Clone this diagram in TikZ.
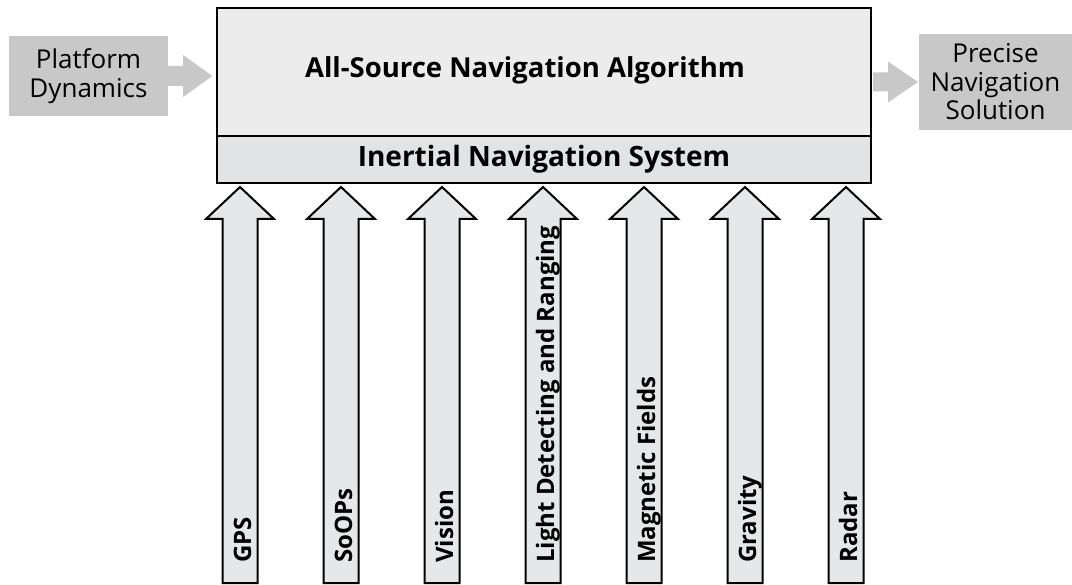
\documentclass[tikz,border=0pt]{standalone}
\usepackage{fontspec}
\setmainfont{Open Sans}
\definecolor{algfill}{HTML}{EBECEB}
\definecolor{insfill}{HTML}{E2E3E4}
\definecolor{arrfill}{HTML}{E6E7E8}
\definecolor{sidegray}{HTML}{C8C8C8}
\begin{document}
\begin{tikzpicture}[x=1pt,y=-1pt,
  mainbox/.style={draw=black,line width=2pt,inner sep=0pt},
  sidebox/.style={fill=sidegray,inner sep=0pt,align=center,font=\fontsize{26}{28.5}\selectfont},
  sidearrow/.style={fill=sidegray},
  srcarrow/.style={draw=black,fill=arrfill,line width=2pt,line join=miter},
  srclabel/.style={rotate=90,anchor=base west,inner sep=0pt,font=\fontsize{24}{24}\selectfont\bfseries}]
\useasboundingbox (0,0) rectangle (1072,585);
\fill[white] (0,0) rectangle (1072,585);
% main boxes
\node[mainbox,fill=algfill,minimum width=654pt,minimum height=128pt] (alg) at (544,72) {};
\node[mainbox,fill=insfill,minimum width=654pt,minimum height=47pt,font=\fontsize{28}{28}\selectfont\bfseries] (ins) at (544,159.5) {Inertial Navigation System};
\node[inner sep=0pt,font=\fontsize{27.5}{27.5}\selectfont\bfseries] (title) at (525,70) {All-Source Navigation Algorithm};
% side boxes
\node[sidebox,minimum width=159pt,minimum height=80pt] (pd) at (88.5,76) {Platform\\Dynamics};
\node[sidebox,minimum width=153pt,minimum height=96pt] (pns) at (995.5,82) {Precise\\Navigation\\Solution};
% side arrows
\fill[sidearrow] ([yshift=-10pt]pd.east) -- ++(15,0) -- ++(0,11)
  -- ++(29,-21) -- ++(-29,-21) -- ++(0,11) -- ([yshift=10pt]pd.east) -- cycle;
\coordinate (a0) at (alg.east |- pns.west);
\fill[sidearrow] ([yshift=-9.5pt,xshift=1pt]a0) -- ++(15,0) -- ++(0,11)
  -- ++(30,-20.5) -- ++(-30,-20.5) -- ++(0,11) -- ([yshift=9.5pt,xshift=1pt]a0) -- cycle;
% source arrows
\foreach \cx/\nm/\txt in {240/gps/GPS,341/soops/SoOPs,442/vision/Vision,543/lidar/Light Detecting and Ranging,644/mag/Magnetic Fields,745/grav/Gravity,846/radar/Radar}{
  \coordinate (\nm-base) at (\cx,583);
  \coordinate (\nm-tip) at (\cx,187);
  \draw[srcarrow] (\nm-tip) -- ++(34,32) -- ++(-16.5,0) |- ([xshift=-17.5pt]\nm-base) -- ++(0,-364) -- ++(-16.5,0) -- cycle;
  \node[srclabel] (\nm) at (\cx+11,563) {\txt};
}
\end{tikzpicture}
\end{document}
